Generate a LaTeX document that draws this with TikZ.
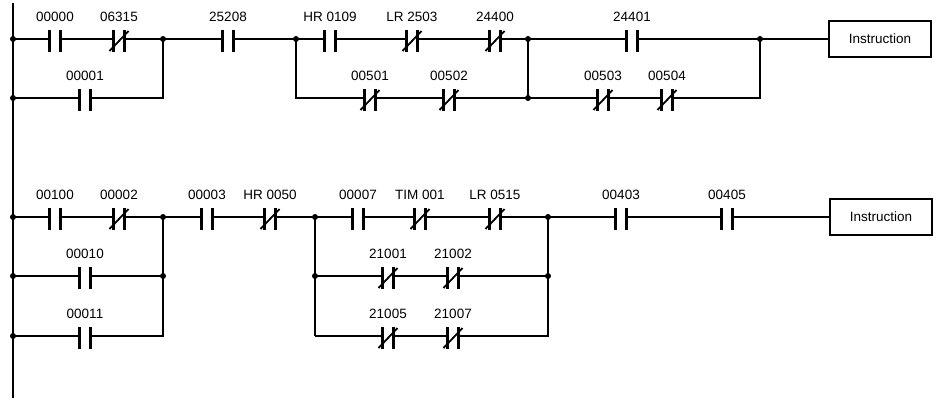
\documentclass[tikz,border=0pt]{standalone}
\usepackage{fontspec}
\setmainfont{Liberation Sans}
\begin{document}
\begin{tikzpicture}[x=1pt,y=-1pt,line width=2.1pt,
  lbl/.style={font=\fontsize{13.5}{14}\selectfont,inner sep=0pt},
  instr/.style={draw,line width=1.6pt,minimum width=102pt,minimum height=36pt,inner sep=0pt,font=\fontsize{13.5}{14}\selectfont},
  dot/.style={circle,fill,inner sep=0pt,minimum size=6pt}]
\useasboundingbox (0,0) rectangle (940,400);
\newcommand\ctc[5]{%
  \coordinate (#1L) at (#2-5.5,#3);
  \coordinate (#1R) at (#2+5.5,#3);
  \draw (#2-5.5,#3-9) -- (#2-5.5,#3+13) (#2+5.5,#3-9) -- (#2+5.5,#3+13);
  \ifnum#5=1 \draw[line width=1.8pt] (#2-9.5,#3+12) -- (#2+9.5,#3-8);\fi
  \node[lbl] (#1T) at (#2,#3-22) {#4};}
% rail
\coordinate (railT) at (13,3); \coordinate (railB) at (13,398);
\draw (railT) -- (railB);
% rung 1
\coordinate (a1) at (13,39); \coordinate (a2) at (13,98);
\coordinate (j1) at (163,39); \coordinate (j1b) at (163,98);
\coordinate (j2) at (296,39); \coordinate (j2b) at (296,98);
\coordinate (j3) at (528,39); \coordinate (j3b) at (528,98);
\coordinate (j4) at (760,39); \coordinate (j4b) at (760,98);
\ctc{c1}{55}{39}{00000}{0}
\ctc{c2}{119}{39}{06315}{1}
\ctc{c3}{85}{98}{00001}{0}
\ctc{c4}{228}{39}{25208}{0}
\ctc{c5}{330}{39}{HR 0109}{0}
\ctc{c6}{412}{39}{LR 2503}{1}
\ctc{c7}{495}{39}{24400}{1}
\ctc{c8}{370}{98}{00501}{1}
\ctc{c9}{449}{98}{00502}{1}
\ctc{c10}{632}{39}{24401}{0}
\ctc{c11}{603}{98}{00503}{1}
\ctc{c12}{667}{98}{00504}{1}
\node[instr] (i1) at (880,39) {Instruction};
\draw (a1) -- (c1L) (c1R) -- (c2L) (c2R) -- (j1) -- (c4L) (c4R) -- (j2) -- (c5L)
  (c5R) -- (c6L) (c6R) -- (c7L) (c7R) -- (j3) -- (c10L) (c10R) -- (j4) -- (i1.west);
\draw (a2) -- (c3L) (c3R) -- (j1b) -- (j1);
\draw (j2) -- (j2b) -- (c8L) (c8R) -- (c9L) (c9R) -- (j3b) -- (j3);
\draw (j3b) -- (c11L) (c11R) -- (c12L) (c12R) -- (j4b) -- (j4);
\foreach \p in {a1,a2,j1,j2,j3,j3b,j4} \node[dot] at (\p) {};
% rung 2
\coordinate (b1) at (13,217); \coordinate (b2) at (13,276); \coordinate (b3) at (13,336);
\coordinate (k1) at (163,217); \coordinate (k1b) at (163,276); \coordinate (k1c) at (163,336);
\coordinate (k2) at (315,217); \coordinate (k2b) at (315,276); \coordinate (k2c) at (315,336);
\coordinate (k3) at (548,217); \coordinate (k3b) at (548,276); \coordinate (k3c) at (548,336);
\ctc{d1}{55}{217}{00100}{0}
\ctc{d2}{119}{217}{00002}{1}
\ctc{d3}{85}{276}{00010}{0}
\ctc{d4}{85}{336}{00011}{0}
\ctc{d5}{207}{217}{00003}{0}
\ctc{d6}{270}{217}{HR 0050}{1}
\ctc{d7}{358}{217}{00007}{0}
\ctc{d8}{420}{217}{TIM 001}{1}
\ctc{d9}{495}{217}{LR 0515}{1}
\ctc{d10}{388}{276}{21001}{1}
\ctc{d11}{453}{276}{21002}{1}
\ctc{d12}{388}{336}{21005}{1}
\ctc{d13}{453}{336}{21007}{1}
\ctc{d14}{621}{217}{00403}{0}
\ctc{d15}{727}{217}{00405}{0}
\node[instr] (i2) at (881,217) {Instruction};
\draw (b1) -- (d1L) (d1R) -- (d2L) (d2R) -- (k1) -- (d5L) (d5R) -- (d6L) (d6R) -- (k2) -- (d7L)
  (d7R) -- (d8L) (d8R) -- (d9L) (d9R) -- (k3) -- (d14L) (d14R) -- (d15L) (d15R) -- (i2.west);
\draw (b2) -- (d3L) (d3R) -- (k1b);
\draw (b3) -- (d4L) (d4R) -- (k1c) -- (k1);
\draw (k2) -- (k2c) (k2b) -- (d10L) (d10R) -- (d11L) (d11R) -- (k3b);
\draw (k2c) -- (d12L) (d12R) -- (d13L) (d13R) -- (k3c) -- (k3);
\foreach \p in {b1,b2,b3,k1,k1b,k2,k2b,k3,k3b} \node[dot] at (\p) {};
\end{tikzpicture}
\end{document}
